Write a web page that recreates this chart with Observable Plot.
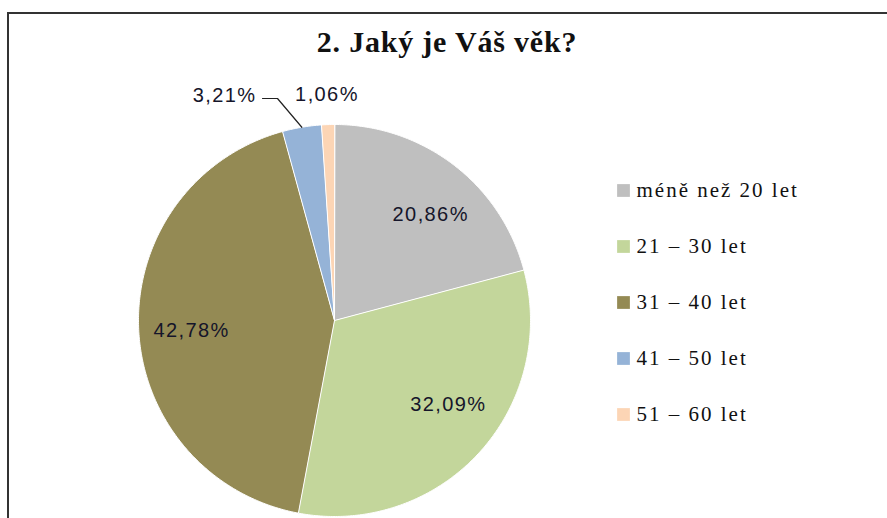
<!DOCTYPE html>
<html>
<head>
<meta charset="utf-8">
<script src="https://cdn.jsdelivr.net/npm/d3@7"></script>
<script src="https://cdn.jsdelivr.net/npm/@observablehq/plot@0.6"></script>
<style>
  body { margin: 0; background: #fff; }
  #wrap { position: relative; width: 887px; height: 518px; overflow: hidden; background: #fff; }
  #border { position: absolute; left: 7px; top: 12px; width: 920px; height: 600px;
            border-top: 2px solid #333; border-left: 2px solid #333; }
  #chart { position: absolute; left: 0; top: 0; }
  .title-mark text { letter-spacing: 0.8px; }
  .legend-text text { letter-spacing: 2px; }
  .pct-text text { letter-spacing: 1.4px; }
</style>
</head>
<body>
<div id="wrap"><div id="border"></div><div id="chart"></div></div>
<script>
// ---- data ----
const title = "2. Jaký je Váš věk?";
const categories = ["méně než 20 let", "21 – 30 let", "31 – 40 let", "41 – 50 let", "51 – 60 let"];
const shares = [20.86, 32.09, 42.78, 3.21, 1.06];
const colors = ["#BFBFBF", "#C3D69B", "#948A54", "#95B3D7", "#FCD5B5"];

// ---- layout (pixels of the 887x518 picture) ----
const W = 887, H = 518;
const CX = 334, CY = 320, R = 196;
const ux = px => (px - CX) / R;   // pixel -> unit pie coordinates
const uy = py => (CY - py) / R;

const fmt = v => v.toFixed(2).replace(".", ",") + "%";
const total = d3.sum(shares);

// slice polygons (start at 12 o'clock, clockwise)
const slices = [];
const mids = [];
let cum = 0;
categories.forEach((cat, i) => {
  const a0 = 2 * Math.PI * cum / total;
  cum += shares[i];
  const a1 = 2 * Math.PI * cum / total;
  mids.push((a0 + a1) / 2);
  slices.push({cat, x: 0, y: 0});
  const n = Math.max(2, Math.ceil((a1 - a0) / (Math.PI / 360)));
  for (let k = 0; k <= n; k++) {
    const a = a0 + (a1 - a0) * k / n;
    slices.push({cat, x: Math.sin(a), y: Math.cos(a)});
  }
});

// label placement
const nudge = [[9, 8], [9, -13], [0, 4]]; // px nudges for inside labels
const labels = [];
let leader = [];
categories.forEach((cat, i) => {
  const m = mids[i];
  if (shares[i] >= 5) {
    const r = 0.73;
    labels.push({text: fmt(shares[i]), x: r * Math.sin(m) + nudge[i][0] / R, y: r * Math.cos(m) - nudge[i][1] / R, anchor: "middle"});
  } else if (i === 3) {
    // shifted to the left with a leader line
    const ex = Math.sin(m), ey = Math.cos(m);
    leader = [
      {x: ex, y: ey},
      {x: ux(277), y: uy(98)},
      {x: ux(262), y: uy(98)}
    ];
    labels.push({text: fmt(shares[i]), x: ux(256), y: uy(95), anchor: "end"});
  } else {
    const r = 1.153;
    labels.push({text: fmt(shares[i]), x: r * Math.sin(m), y: r * Math.cos(m), anchor: "middle"});
  }
});

// legend
const legend = categories.map((cat, i) => ({cat, y: uy(190 + i * 56)}));

const chart = Plot.plot({
  width: W, height: H,
  margin: 0,
  x: {domain: [-1, 1], range: [CX - R, CX + R], axis: null},
  y: {domain: [-1, 1], range: [CY + R, CY - R], axis: null},
  color: {domain: categories, range: colors},
  style: {fontFamily: "'Liberation Serif', 'Times New Roman', serif", background: "transparent", overflow: "visible"},
  marks: [
    Plot.line(slices, {x: "x", y: "y", z: "cat", fill: "cat", stroke: "white", strokeWidth: 1, curve: "linear-closed"}),
    Plot.line(leader, {x: "x", y: "y", stroke: "#222", strokeWidth: 1.2}),
    Plot.text(labels.filter(d => d.anchor === "middle"), {x: "x", y: "y", text: "text", textAnchor: "middle",
      fontFamily: "'Liberation Sans', Arial, sans-serif", fontSize: 20, fill: "#15152a", className: "pct-text"}),
    Plot.text(labels.filter(d => d.anchor === "end"), {x: "x", y: "y", text: "text", textAnchor: "end",
      fontFamily: "'Liberation Sans', Arial, sans-serif", fontSize: 20, fill: "#15152a", className: "pct-text"}),
    Plot.text([title], {frameAnchor: "top", dy: 42, lineAnchor: "middle", text: d => d, fontSize: 30,
      fontWeight: "bold", fill: "#111", className: "title-mark", dx: 3}),
    Plot.dot(legend, {x: ux(623), y: "y", fill: "cat", symbol: "square", r: 7.2, stroke: null}),
    Plot.text(legend, {x: ux(636), y: "y", text: "cat", textAnchor: "start", fontSize: 21, fill: "#111", className: "legend-text"})
  ]
});
document.getElementById("chart").append(chart);
</script>
</body>
</html>
